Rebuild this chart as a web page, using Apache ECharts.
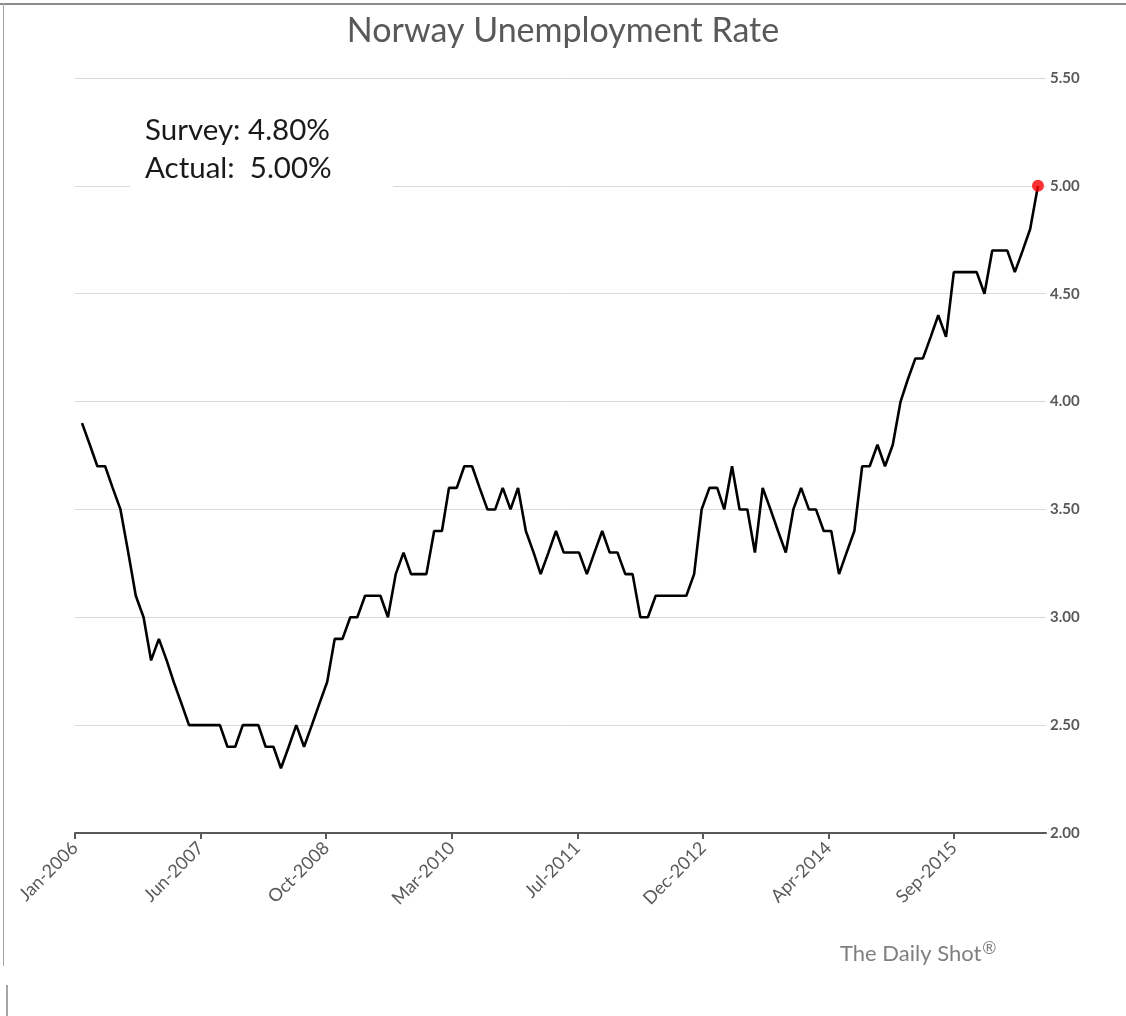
<!DOCTYPE html>
<html><head><meta charset="utf-8">
<script src="https://cdn.jsdelivr.net/npm/echarts@6/dist/echarts.min.js"></script>
<style>html,body{margin:0;padding:0;background:#fff}#c{width:1126px;height:1016px}</style>
</head><body><div id="c"></div>
<script>
const chartTitle = 'Norway Unemployment Rate';
// observations: month-end dates starting at this month, one per month
const firstMonth = [2006, 2];
const values = [
  3.9, 3.8, 3.7, 3.7, 3.6, 3.5, 3.3, 3.1, 3.0, 2.8,
  2.9, 2.8, 2.7, 2.6, 2.5, 2.5, 2.5, 2.5, 2.5, 2.4,
  2.4, 2.5, 2.5, 2.5, 2.4, 2.4, 2.3, 2.4, 2.5, 2.4,
  2.5, 2.6, 2.7, 2.9, 2.9, 3.0, 3.0, 3.1, 3.1, 3.1,
  3.0, 3.2, 3.3, 3.2, 3.2, 3.2, 3.4, 3.4, 3.6, 3.6,
  3.7, 3.7, 3.6, 3.5, 3.5, 3.6, 3.5, 3.6, 3.4, 3.3,
  3.2, 3.3, 3.4, 3.3, 3.3, 3.3, 3.2, 3.3, 3.4, 3.3,
  3.3, 3.2, 3.2, 3.0, 3.0, 3.1, 3.1, 3.1, 3.1, 3.1,
  3.2, 3.5, 3.6, 3.6, 3.5, 3.7, 3.5, 3.5, 3.3, 3.6,
  3.5, 3.4, 3.3, 3.5, 3.6, 3.5, 3.5, 3.4, 3.4, 3.2,
  3.3, 3.4, 3.7, 3.7, 3.8, 3.7, 3.8, 4.0, 4.1, 4.2,
  4.2, 4.3, 4.4, 4.3, 4.6, 4.6, 4.6, 4.6, 4.5, 4.7,
  4.7, 4.7, 4.6, 4.7, 4.8, 5.0
];
// date axis: origin date, tick step in days, and the labels at those ticks
const axisOrigin = [2006, 1, 31];
const axisEndDays = 3866;
const tickStepDays = 500;
const xTickLabels = ['Jan-2006', 'Jun-2007', 'Oct-2008', 'Mar-2010', 'Jul-2011', 'Dec-2012', 'Apr-2014', 'Sep-2015'];
const yMin = 2.0, yMax = 5.5, yStep = 0.5;
const noteLines = ['Survey: 4.80%', 'Actual:  5.00%'];
const sourceText = 'The Daily Shot';

const DAY = 86400000;
const origin = Date.UTC(axisOrigin[0], axisOrigin[1] - 1, axisOrigin[2]);
const dayOffsets = values.map((_, i) => Math.round((Date.UTC(firstMonth[0], firstMonth[1] - 1 + i + 1, 0) - origin) / DAY));
const lineData = values.map((v, i) => [dayOffsets[i], v]);
const lastPoint = lineData[lineData.length - 1];
const tickValues = xTickLabels.map((_, k) => k * tickStepDays);

const FONT = 'Lato';
const chart = echarts.init(document.getElementById('c'), null, {renderer: 'canvas'});
chart.setOption({
  animation: false,
  backgroundColor: '#ffffff',
  title: {
    text: chartTitle, left: 'center', top: 9,
    textStyle: {fontFamily: FONT, fontSize: 34, fontWeight: 'normal', color: '#595959'}
  },
  grid: {left: 75, right: 80, top: 78, bottom: 183, containLabel: false},
  xAxis: {
    type: 'value', min: 0, max: axisEndDays, interval: tickStepDays,
    axisLine: {show: true, onZero: false, lineStyle: {color: '#595959', width: 2}},
    axisTick: {show: true, length: 6, customValues: tickValues, lineStyle: {color: '#595959', width: 2}},
    axisLabel: {
      customValues: tickValues, rotate: 45, margin: 12,
      fontFamily: FONT, fontSize: 18, color: '#595959',
      formatter: v => xTickLabels[Math.round(v / tickStepDays)] || ''
    },
    splitLine: {show: false}
  },
  yAxis: {
    type: 'value', position: 'right', min: yMin, max: yMax, interval: yStep,
    axisLine: {show: false}, axisTick: {show: false},
    axisLabel: {margin: 4, fontFamily: FONT, fontSize: 15, fontWeight: 'bold', color: '#595959',
      formatter: v => v.toFixed(2)},
    splitLine: {show: true, lineStyle: {color: '#D9D9D9', width: 1}}
  },
  series: [
    {type: 'line', data: lineData, symbol: 'none', lineStyle: {color: '#000000', width: 2.6}, z: 3},
    {type: 'scatter', data: [lastPoint], symbol: 'circle', symbolSize: 12, itemStyle: {color: '#FF0000'}, z: 4}
  ],
  graphic: [
    {type: 'rect', z: 100, shape: {x: 0, y: 3, width: 1126, height: 2}, style: {fill: '#8C8C8C'}},
    {type: 'rect', z: 100, shape: {x: 3, y: 3, width: 1, height: 963}, style: {fill: '#A6A6A6'}},
    {type: 'rect', z: 100, shape: {x: 6, y: 985, width: 2, height: 31}, style: {fill: '#A6A6A6'}},
    {type: 'rect', z: 100, shape: {x: 130, y: 100, width: 263, height: 92}, style: {fill: '#ffffff'}},
    {type: 'text', z: 101, left: 145, top: 111, style: {text: noteLines.join('\n'), fontFamily: FONT, fontSize: 29.5, lineHeight: 38, fill: '#1a1a1a'}},
    {type: 'text', z: 101, left: 840, top: 940, style: {
      text: '{a|' + sourceText + '}{s|®}', fill: '#7F7F7F',
      rich: {a: {fontFamily: FONT, fontSize: 22, fill: '#7F7F7F', color: '#7F7F7F'},
             s: {fontFamily: FONT, fontSize: 17, fill: '#7F7F7F', color: '#7F7F7F', verticalAlign: 'top', padding: [0,0,10,1]}}
    }}
  ]
});
</script></body></html>
